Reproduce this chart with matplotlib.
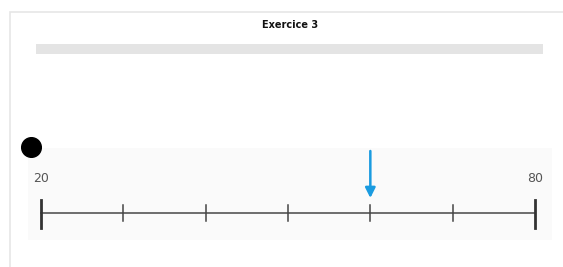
import matplotlib.pyplot as plt
import matplotlib.patches as patches
import numpy as np

# number line values
title = "Exercice 3"
tick_values = [20, 30, 40, 50, 60, 70, 80]
end_labels = [20, 80]
answer = 60

W, H = 563, 267
fig = plt.figure(figsize=(W / 100, H / 100), dpi=100)
ax = fig.add_axes([0, 0, 1, 1])
ax.axis('off')

# x in number-line units, y in pixels from top
px_per_unit = (535 - 41) / (tick_values[-1] - tick_values[0])
x0 = tick_values[0] - 41 / px_per_unit
x1 = x0 + W / px_per_unit
ax.set_xlim(x0, x1)
ax.set_ylim(H, 0)

def px(x):
    return x0 + x / px_per_unit

# card frame
ax.add_patch(patches.Rectangle((px(10), 12), px(W + 20) - px(10), H, facecolor='white',
                               edgecolor='#e6e6e6', lw=1.2))
ax.text(px(290), 25, title, ha='center', va='center', fontsize=7, fontweight='bold',
        color='#111111')
# grey bar
ax.add_patch(patches.Rectangle((px(36), 44), px(543) - px(36), 10, facecolor='#e4e4e4',
                               edgecolor='none'))
# light band behind the number line
ax.add_patch(patches.Rectangle((px(28), 148), px(552) - px(28), 92, facecolor='#fafafa',
                               edgecolor='none'))
# black dot
ax.scatter([px(31)], [147], s=200, color='black', zorder=5)

# number line
y_line = 213
ax.plot([tick_values[0], tick_values[-1]], [y_line, y_line], color='#555555', lw=1.2, zorder=3)
for v in tick_values:
    if v in end_labels:
        ax.plot([v, v], [200, 228], color='#333333', lw=2, zorder=4)
    else:
        ax.plot([v, v], [205, 221], color='#444444', lw=1.1, zorder=4)
for v in end_labels:
    ax.text(v, 178, str(v), ha='center', va='center', fontsize=9, color='#555555')

# arrow on the answer
ax.annotate('', xy=(answer, 198), xytext=(answer, 151),
            arrowprops=dict(arrowstyle='-|>,head_length=0.6,head_width=0.3', color='#1a9be0',
                            lw=1.8, shrinkA=0, shrinkB=0))

fig.savefig('out.png', dpi=100)
